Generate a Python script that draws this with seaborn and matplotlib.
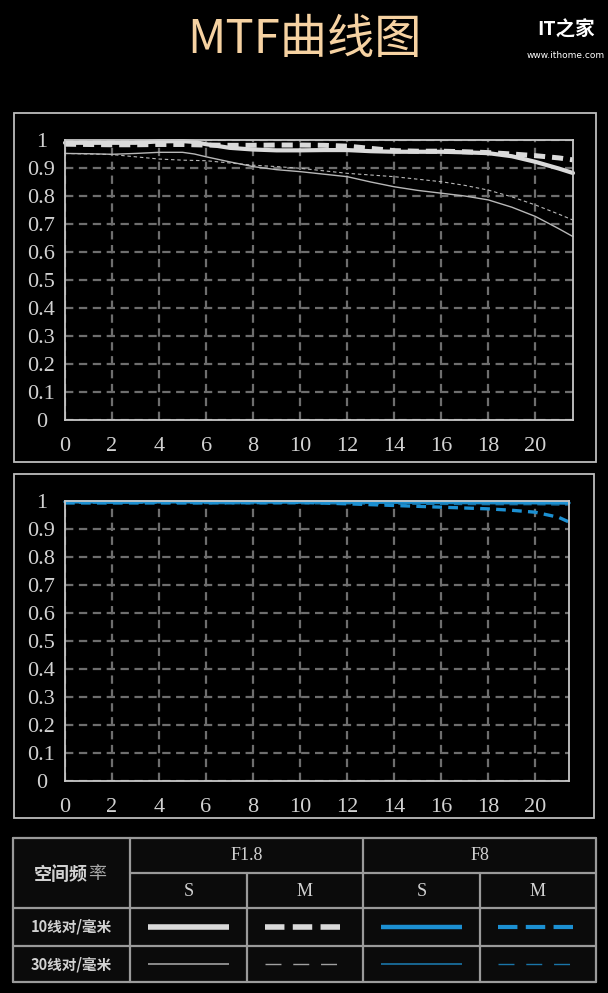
import numpy as np
import pandas as pd
import seaborn as sns
import matplotlib.pyplot as plt
from matplotlib.patches import Rectangle

# ---------------- data ----------------
field_f18 = [0, 1, 2, 3, 4, 5, 5.5, 6, 7, 8, 9, 10, 11, 12, 13, 14, 15, 16, 17, 18, 19, 20, 21, 21.6]
f18_s10 = [0.99, 0.99, 0.99, 0.99, 0.995, 0.996, 0.993, 0.985, 0.972, 0.966, 0.963, 0.963, 0.964, 0.964,
           0.96, 0.958, 0.958, 0.958, 0.956, 0.953, 0.942, 0.922, 0.898, 0.882]
f18_m10 = [0.985, 0.984, 0.983, 0.983, 0.984, 0.984, 0.983, 0.982, 0.981, 0.981, 0.982, 0.982, 0.981, 0.978,
           0.97, 0.962, 0.96, 0.96, 0.958, 0.955, 0.95, 0.944, 0.936, 0.929]
f18_s30 = [0.952, 0.951, 0.949, 0.952, 0.956, 0.956, 0.95, 0.94, 0.922, 0.905, 0.894, 0.887, 0.878, 0.869,
           0.85, 0.833, 0.82, 0.81, 0.8, 0.786, 0.76, 0.727, 0.683, 0.655]
f18_m30 = [0.952, 0.95, 0.948, 0.94, 0.932, 0.928, 0.927, 0.926, 0.918, 0.91, 0.905, 0.899, 0.89, 0.881,
           0.875, 0.869, 0.86, 0.851, 0.838, 0.821, 0.797, 0.768, 0.735, 0.714]

field_f8 = [0, 2, 4, 6, 8, 10, 12, 14, 16, 18, 19, 20, 21, 21.45]
f8_s10 = [0.997, 0.997, 0.997, 0.997, 0.997, 0.997, 0.997, 0.997, 0.997, 0.996, 0.996, 0.995, 0.994, 0.993]
f8_m10 = [0.993, 0.993, 0.993, 0.993, 0.994, 0.995, 0.99, 0.984, 0.978, 0.972, 0.967, 0.96, 0.942, 0.925]
f8_s30 = [0.995, 0.995, 0.995, 0.995, 0.994, 0.993, 0.992, 0.992, 0.991, 0.99, 0.99, 0.99, 0.99, 0.99]
f8_m30 = [0.992, 0.992, 0.992, 0.991, 0.99, 0.99, 0.99, 0.989, 0.988, 0.987, 0.987, 0.987, 0.986, 0.986]

x_ticks = [0, 2, 4, 6, 8, 10, 12, 14, 16, 18, 20]
y_ticks = [0, 0.1, 0.2, 0.3, 0.4, 0.5, 0.6, 0.7, 0.8, 0.9, 1]
y_labels = ['0', '0.1', '0.2', '0.3', '0.4', '0.5', '0.6', '0.7', '0.8', '0.9', '1']

title = "MTF曲线图"
apertures = ["F1.8", "F8"]
directions = ["S", "M"]
freq_rows = ["10线对/毫米", "30线对/毫米"]

# ---------------- style ----------------
sns.set_theme(style="dark")
plt.rcParams['font.family'] = ['Noto Sans CJK SC', 'DejaVu Sans']
plt.rcParams['lines.scale_dashes'] = False

W, H = 608, 993
fig = plt.figure(figsize=(W / 100, H / 100), dpi=100, facecolor='black')

bg = fig.add_axes([0, 0, 1, 1])
bg.set_xlim(0, W)
bg.set_ylim(H, 0)
bg.axis('off')
bg.set_zorder(0)


def px_axes(l, t, r, b):
    ax = fig.add_axes([l / W, 1 - b / H, (r - l) / W, (b - t) / H])
    ax.set_zorder(2)
    return ax


GRAY_TXT = '#d2d2d2'
SERIF = ['Liberation Serif', 'DejaVu Serif']
LIGHT = '#dadada'
LIGHT_THIN = '#b8b8b8'
BLUE = '#1c90d2'
BLUE_THIN = '#1a75a8'

# title + watermark
bg.text(304, 40, title, color='#f6d2a2', fontsize=34, ha='center', va='center',
        family=['Noto Sans CJK SC', 'DejaVu Sans'])
bg.text(566, 30, "IT之家", color='white', fontsize=14, ha='center', va='center', fontweight='bold')
bg.text(566, 56, "www.ithome.com", color='white', fontsize=6.5, ha='center', va='center',
        family=['DejaVu Sans'])

# outer boxes
for (l, t, r, b) in [(14, 113, 596, 462), (14, 474, 594, 818)]:
    bg.add_patch(Rectangle((l, t), r - l, b - t, fill=False, ec='#bdbdbd', lw=1.3))


def style_axes(ax, xmax):
    ax.set_facecolor('black')
    ax.set_xlim(0, xmax)
    ax.set_ylim(0, 1)
    ax.set_xticks(x_ticks, [str(v) for v in x_ticks])
    ax.set_yticks(y_ticks, y_labels)
    ax.grid(True, color='#6e6e6e', lw=1.6, linestyle=(0, (6, 4)))
    ax.set_axisbelow(True)
    for s in ax.spines.values():
        s.set_visible(True)
        s.set_color('#c8c8c8')
        s.set_linewidth(1.3)
    ax.tick_params(axis='both', length=0, colors=GRAY_TXT, labelsize=16)
    ax.tick_params(axis='y', pad=17)
    ax.tick_params(axis='x', pad=12)
    for lab in ax.get_yticklabels() + ax.get_xticklabels():
        lab.set_family(SERIF)
        lab.set_color(GRAY_TXT)
    for lab in ax.get_yticklabels():
        lab.set_ha('center')
    ax.set_xlabel('')
    ax.set_ylabel('')


ax1 = px_axes(65, 140, 573, 420)
series1 = [
    (f18_m30, LIGHT_THIN, 0.8, (0, (2.5, 2))),
    (f18_s30, LIGHT_THIN, 1.0, '-'),
    (f18_s10, LIGHT, 3.0, '-'),
    (f18_m10, LIGHT, 3.6, (0, (8, 5))),
]
for vals, col, lw, ls in series1:
    sns.lineplot(x=field_f18, y=vals, ax=ax1, color=col, linewidth=lw, linestyle=ls, clip_on=False)
style_axes(ax1, 21.6)

ax2 = px_axes(65, 501, 569, 781)
series2 = [
    (f8_m30, BLUE_THIN, 1.0, (0, (6, 4))),
    (f8_s30, BLUE_THIN, 1.0, '-'),
    (f8_s10, BLUE, 2.4, '-'),
    (f8_m10, BLUE, 2.4, (0, (7, 4.5))),
]
for vals, col, lw, ls in series2:
    sns.lineplot(x=field_f8, y=vals, ax=ax2, color=col, linewidth=lw, linestyle=ls, clip_on=False)
style_axes(ax2, 21.45)

# ---------------- legend table ----------------
cols = [13, 130, 247, 363, 480, 596]
rows = [838, 873, 908, 946, 982]
bg.add_patch(Rectangle((13, 838), 583, 144, fc='#0b0b0b', ec='none', zorder=1))
BORDER = '#9a9a9a'
blw = 1.6
bg.plot([13, 596], [838, 838], color=BORDER, lw=blw, zorder=3)
bg.plot([130, 596], [873, 873], color=BORDER, lw=blw, zorder=3)
for y in rows[2:]:
    bg.plot([13, 596], [y, y], color=BORDER, lw=blw, zorder=3)
for x in [13, 130, 363, 596]:
    bg.plot([x, x], [838, 982], color=BORDER, lw=blw, zorder=3)
for x in [247, 480]:
    bg.plot([x, x], [873, 982], color=BORDER, lw=blw, zorder=3)

bg.text(61, 874, "空间频", color=GRAY_TXT, fontsize=13, fontweight='bold', ha='center', va='center', zorder=4)
bg.text(97, 874, "率", color='#a8a8a8', fontsize=13, ha='center', va='center', zorder=4)
for i, ap in enumerate(apertures):
    bg.text((cols[1 + 2 * i] + cols[3 + 2 * i]) / 2, 856, ap, color=GRAY_TXT, fontsize=13,
            ha='center', va='center', family=SERIF, zorder=4)
    for j, d in enumerate(directions):
        bg.text((cols[1 + 2 * i + j] + cols[2 + 2 * i + j]) / 2, 891, d, color=GRAY_TXT, fontsize=13,
                ha='center', va='center', family=SERIF, zorder=4)
for k, lab in enumerate(freq_rows):
    bg.text(71, (rows[2 + k] + rows[3 + k]) / 2, lab, color=GRAY_TXT, fontsize=10.5, fontweight='bold',
            ha='center', va='center', zorder=4)

key_styles = [
    [(LIGHT, 4.0, '-'), (LIGHT, 4.0, (0, (14, 6))), (BLUE, 3.2, '-'), (BLUE, 3.0, (0, (14, 6)))],
    [('#a0a0a0', 1.2, '-'), ('#a0a0a0', 1.0, (0, (11.5, 8.5))), (BLUE_THIN, 1.2, '-'),
     (BLUE_THIN, 1.0, (0, (11.5, 8.5)))],
]
for k in range(2):
    yc = (rows[2 + k] + rows[3 + k]) / 2
    for c in range(4):
        col, lw, ls = key_styles[k][c]
        x0 = cols[1 + c] + 18
        x1 = cols[2 + c] - 18
        bg.plot([x0, x1], [yc, yc], color=col, lw=lw, linestyle=ls, zorder=4, solid_capstyle='butt',
                dash_capstyle='butt')

fig.savefig("out.png", dpi=100, facecolor='black')
